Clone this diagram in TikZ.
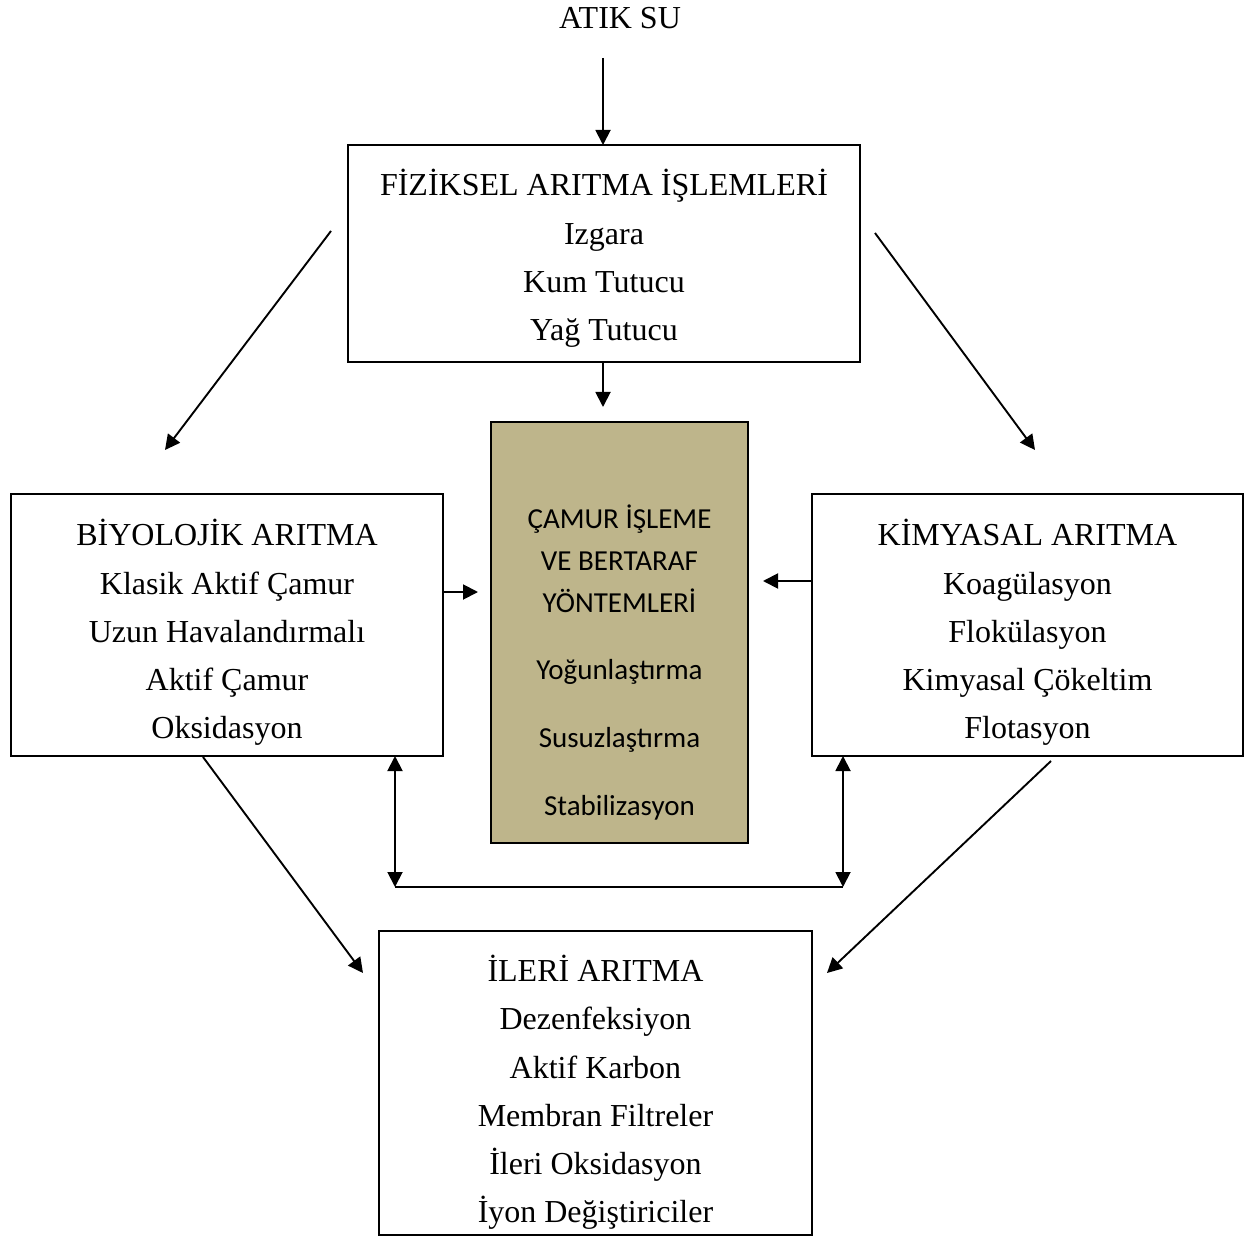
\documentclass[tikz,border=0pt]{standalone}
\usepackage{fontspec}
\setmainfont{Liberation Serif}
\newfontfamily\calibrifont{Carlito}
\usetikzlibrary{arrows.meta,calc}
\begin{document}
\begin{tikzpicture}[x=1pt,y=-1pt,
  box/.style={draw=black,line width=1.8pt,inner sep=0pt,outer sep=0pt,anchor=north west},
  sludgebox/.style={box,fill=sludge},
  ttext/.style={align=center,inner sep=0pt,font=\fontsize{32}{48.2}\selectfont},
  ctext/.style={align=center,inner sep=0pt,font=\calibrifont\fontsize{29}{42}\selectfont},
  arr/.style={line width=1.9pt,-{Triangle[length=15pt,width=15pt]}},
  dbl/.style={line width=1.9pt,{Triangle[length=15pt,width=15pt]}-{Triangle[length=15pt,width=15pt]}},
  plain/.style={line width=1.9pt}]
\definecolor{sludge}{RGB}{190,181,139}
\useasboundingbox (0,0) rectangle (1256,1238);

% title
\node[ttext,anchor=base] (atik) at (620,29) {ATIK SU};

% boxes
\node[box,minimum width=512pt,minimum height=217pt] (fiz) at (348,145) {};
\node[box,minimum width=432pt,minimum height=262pt] (bio) at (11,494) {};
\node[box,minimum width=431pt,minimum height=262pt] (kim) at (812,494) {};
\node[box,minimum width=433pt,minimum height=304pt] (ile) at (379,931) {};
\node[sludgebox,minimum width=257pt,minimum height=421pt] (cam) at (491,422) {};

% texts
\node[ttext] (fizt) at (604,258.5) {FİZİKSEL ARITMA İŞLEMLERİ\\Izgara\\Kum Tutucu\\Yağ Tutucu};
\node[ttext] (biot) at (227,632.5) {BİYOLOJİK ARITMA\\Klasik Aktif Çamur\\Uzun Havalandırmalı\\Aktif Çamur\\Oksidasyon};
\node[ttext] (kimt) at (1027.5,632.5) {KİMYASAL ARITMA\\Koagülasyon\\Flokülasyon\\Kimyasal Çökeltim\\Flotasyon};
\node[ttext] (ilet) at (595.5,1092.5) {İLERİ ARITMA\\Dezenfeksiyon\\Aktif Karbon\\Membran Filtreler\\İleri Oksidasyon\\İyon Değiştiriciler};
\node[ctext] (camt) at (619.5,662.5) {ÇAMUR İŞLEME\\VE BERTARAF\\YÖNTEMLERİ\\[25pt]Yoğunlaştırma\\[26pt]Susuzlaştırma\\[26pt]Stabilizasyon};

% free connector ends
\coordinate (a0) at (603,58);
\coordinate (a1) at (603,407);
\coordinate (d1s) at (331,231);
\coordinate (d1e) at (165,450);
\coordinate (d2s) at (875,233);
\coordinate (d2e) at (1035,450);
\coordinate (d3s) at (203,757);
\coordinate (d3e) at (363,973);
\coordinate (d4s) at (1051,761);
\coordinate (d4e) at (827,973);
\coordinate (h1) at (478,592);
\coordinate (h2) at (763,581);
\coordinate (b1) at (395,887);
\coordinate (b2) at (843,887);

% connectors
\draw[arr] (a0) -- (a0 |- fiz.north);
\draw[arr] (a1 |- fiz.south) -- (a1);
\draw[arr] (d1s) -- (d1e);
\draw[arr] (d2s) -- (d2e);
\draw[arr] (d3s) -- (d3e);
\draw[arr] (d4s) -- (d4e);
\draw[arr] (bio.east |- h1) -- (h1);
\draw[arr] (kim.west |- h2) -- (h2);
\draw[dbl] (b1 |- bio.south) -- (b1);
\draw[dbl] (b2 |- kim.south) -- (b2);
\draw[plain] (b1) -- (b2);
\end{tikzpicture}
\end{document}
